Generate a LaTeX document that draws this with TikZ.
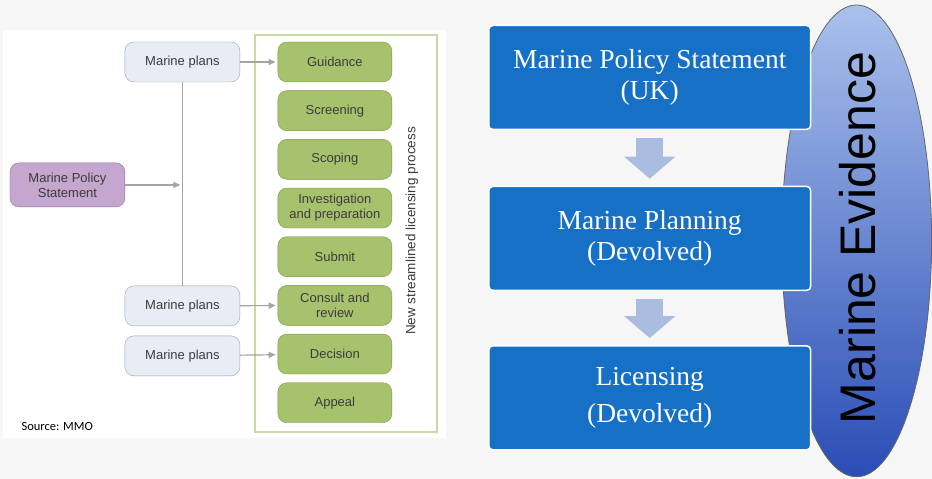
\documentclass[tikz,border=0pt]{standalone}
\usepackage{fontspec}
\setmainfont{Liberation Serif}
\setsansfont{Liberation Sans}
\newfontfamily\srcfont{Carlito}
\usetikzlibrary{arrows.meta,calc,shapes.geometric}
\definecolor{bggray}{HTML}{F6F6F6}
\definecolor{txtgray}{HTML}{3C3C3C}
\definecolor{planfill}{HTML}{E8ECF5}
\definecolor{planline}{HTML}{9CA2AC}
\definecolor{stepfill}{HTML}{A6C26C}
\definecolor{stepline}{HTML}{7D9748}
\definecolor{mpsfill}{HTML}{C4A6CE}
\definecolor{mpsline}{HTML}{8C7394}
\definecolor{framegreen}{HTML}{C9D9A3}
\definecolor{conngray}{HTML}{A4A4A4}
\definecolor{boxblue}{HTML}{1570C6}
\definecolor{arrblue}{HTML}{AABCE0}
\definecolor{evidtop}{HTML}{A9C1EC}
\definecolor{evidbot}{HTML}{2A4DB6}
\tikzset{plan/.style={rectangle,rounded corners=9pt,draw=planline,fill=planfill,minimum width=115pt,minimum height=40pt,text=txtgray,font=\sffamily\fontsize{13}{15}\selectfont},
  stepbox/.style={plan,draw=stepline,fill=stepfill,minimum width=114pt,align=center,font=\sffamily\fontsize{13}{15}\selectfont},
  conn/.style={draw=conngray,line width=1.2pt,-{Triangle[length=7pt,width=6pt]},shorten >=2pt},
  bluebox/.style={rectangle,rounded corners=4pt,draw=white,line width=1.5pt,fill=boxblue,text=white,minimum width=322pt,minimum height=104pt,align=center,font=\fontsize{27.5}{31}\selectfont},
  blockarr/.style={arrblue,line width=27pt,-{Triangle[length=22pt,width=50pt]}}}
\begin{document}
\begin{tikzpicture}[x=1pt,y=-1pt]
\fill[bggray] (0,0) rectangle (932,479);
\fill[white] (3,30) rectangle (446,438);
\draw[framegreen,line width=1.5pt] (255,35) rectangle (437,432);
\node (plansA) at (182.5,62) [plan] {Marine plans};
\node (plansB) at (182.5,306) [plan] {Marine plans};
\node (plansC) at (182.5,356) [plan] {Marine plans};
\node (mps) at (67.5,185) [plan,draw=mpsline,fill=mpsfill,minimum height=44pt,align=center] {Marine Policy\\Statement};
\foreach \lbl [count=\i] in {Guidance,Screening,Scoping,{Investigation\\and preparation},Submit,{Consult and\\review},Decision,Appeal}
  \node (st\i) at (335,{62+48.7*(\i-1)}) [stepbox] {\lbl};
\node (lproc) at (412,231) [rotate=90,text=txtgray,font=\sffamily\fontsize{13.5}{15}\selectfont] {New streamlined licensing process};
\draw[conngray,line width=1.2pt] (plansA.south)--(plansB.north);
\draw[conn] (mps.east)--(mps.east -| plansA.south);
\draw[conn] (plansA)--(st1);
\draw[conn] (plansB)--(st6);
\draw[conn] (plansC)--(st7);
\node (src) at (18,427) [anchor=west,text=black,font=\srcfont\fontsize{12.5}{14}\selectfont] {Source: MMO};
\node (evid) at (857,241) [ellipse,minimum width=150pt,minimum height=472pt,draw=black!60,line width=0.8pt,top color=evidtop,bottom color=evidbot] {};
\node (evidtxt) at (858,238) [rotate=90,font=\sffamily\fontsize{50}{52}\selectfont] {Marine Evidence};
\node (ukmps) at (650,77.5) [bluebox] {Marine Policy Statement\\(UK)};
\node (plan) at (650,238.5) [bluebox] {Marine Planning\\(Devolved)};
\node (lic) at (650,398) [bluebox] {Licensing\\[6pt](Devolved)};
\draw[blockarr] ($(ukmps.south)+(0,8)$)--($(plan.north)+(0,-7)$);
\draw[blockarr] ($(plan.south)+(0,8)$)--($(lic.north)+(0,-7)$);
\end{tikzpicture}
\end{document}
